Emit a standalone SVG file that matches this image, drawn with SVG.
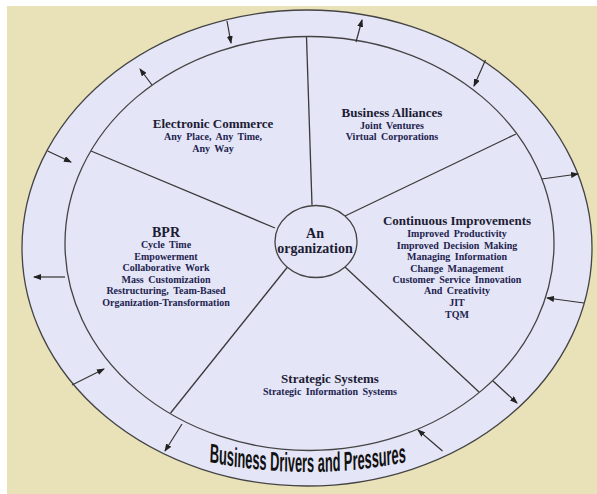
<svg xmlns="http://www.w3.org/2000/svg" width="597" height="494" viewBox="0 0 597 494">
<style>
.t{font-family:"Liberation Serif","Times New Roman",serif;font-weight:bold;font-size:13px;fill:#1c1c34;text-anchor:middle}
.s{font-family:"Liberation Serif","Times New Roman",serif;font-weight:bold;font-size:10px;fill:#22234f;text-anchor:middle;word-spacing:2px}
.ln{stroke:#3a3a3a;stroke-width:1.3;fill:none}
.ar{stroke:#333;stroke-width:1.2;fill:none;marker-end:url(#ah)}
</style>
<defs>
<marker id="ah" viewBox="0 0 8 6" refX="7" refY="3" markerWidth="8" markerHeight="6" markerUnits="userSpaceOnUse" orient="auto">
<path d="M0,0 L8,3 L0,6 z" fill="#222"/>
</marker>
<path id="curve" d="M440,462 Q648,482 856,462"/>
</defs>
<rect x="7" y="6" width="590" height="488" fill="#E9E2B9"/>
<g id="outer-ring">
<ellipse cx="307" cy="248" rx="285" ry="238" fill="#E4E5F6" stroke="#444" stroke-width="1.3"/>
</g>
<g id="inner-circle">
<ellipse cx="309.5" cy="243.5" rx="244.5" ry="207" fill="#E4E5F6" stroke="#444" stroke-width="1.3"/>
</g>
<g id="connectors">
<line class="ln" x1="306.5" y1="37" x2="312" y2="205"/>
<line class="ln" x1="91" y1="151" x2="275" y2="228"/>
<line class="ln" x1="516" y1="134" x2="345" y2="216"/>
<line class="ln" x1="287.5" y1="267" x2="170.6" y2="413"/>
<line class="ln" x1="345" y1="267" x2="479" y2="392"/>
<line class="ar" x1="227" y1="21" x2="231" y2="43"/>
<line class="ar" x1="356" y1="42" x2="362" y2="20"/>
<line class="ar" x1="485.5" y1="60" x2="474" y2="86"/>
<line class="ar" x1="152" y1="85" x2="140" y2="69"/>
<line class="ar" x1="47.6" y1="151" x2="71" y2="162"/>
<line class="ar" x1="65" y1="277" x2="34" y2="277"/>
<line class="ar" x1="72" y1="385" x2="104" y2="369"/>
<line class="ar" x1="182" y1="424" x2="165" y2="451"/>
<line class="ar" x1="442.5" y1="451" x2="418" y2="430"/>
<line class="ar" x1="493" y1="381" x2="517" y2="403"/>
<line class="ar" x1="584" y1="303" x2="547" y2="298"/>
<line class="ar" x1="541.7" y1="179" x2="578" y2="174"/>
</g>
<g id="organization">
<ellipse cx="316" cy="241.5" rx="41" ry="36" fill="#E4E5F6" stroke="#444" stroke-width="1.3"/>
<text class="t" style="font-size:14px" x="315" y="238">An</text>
<text class="t" style="font-size:14px" x="315" y="253">organization</text>
</g>
<g id="electronic-commerce">
<text class="t" x="213" y="128">Electronic Commerce</text>
<text class="s" x="213" y="140">Any Place, Any Time,</text>
<text class="s" x="213" y="152">Any Way</text>
</g>
<g id="business-alliances">
<text class="t" x="392" y="117">Business Alliances</text>
<text class="s" x="392" y="129">Joint Ventures</text>
<text class="s" x="392" y="140">Virtual Corporations</text>
</g>
<g id="bpr">
<text class="t" style="font-size:14px" x="166" y="237">BPR</text>
<text class="s" x="166" y="248">Cycle Time</text>
<text class="s" x="166" y="260">Empowerment</text>
<text class="s" x="166" y="271">Collaborative Work</text>
<text class="s" x="166" y="283">Mass Customization</text>
<text class="s" x="166" y="294">Restructuring, Team-Based</text>
<text class="s" x="166" y="306">Organization-Transformation</text>
</g>
<g id="continuous-improvements">
<text class="t" x="457" y="225">Continuous Improvements</text>
<text class="s" x="457" y="237">Improved Productivity</text>
<text class="s" x="457" y="249">Improved Decision Making</text>
<text class="s" x="457" y="260">Managing Information</text>
<text class="s" x="457" y="272">Change Management</text>
<text class="s" x="457" y="283">Customer Service Innovation</text>
<text class="s" x="457" y="294">And Creativity</text>
<text class="s" x="457" y="306">JIT</text>
<text class="s" x="457" y="318">TQM</text>
</g>
<g id="strategic-systems">
<text class="t" x="330" y="383">Strategic Systems</text>
<text class="s" x="330" y="395">Strategic Information Systems</text>
</g>
<g id="business-drivers" transform="scale(0.475,1)">
<text font-family="'Liberation Sans',Arial,sans-serif" font-size="27" font-weight="bold" fill="#111" text-anchor="middle"><textPath href="#curve" startOffset="50%">Business Drivers and Pressures</textPath></text>
</g>
</svg>
